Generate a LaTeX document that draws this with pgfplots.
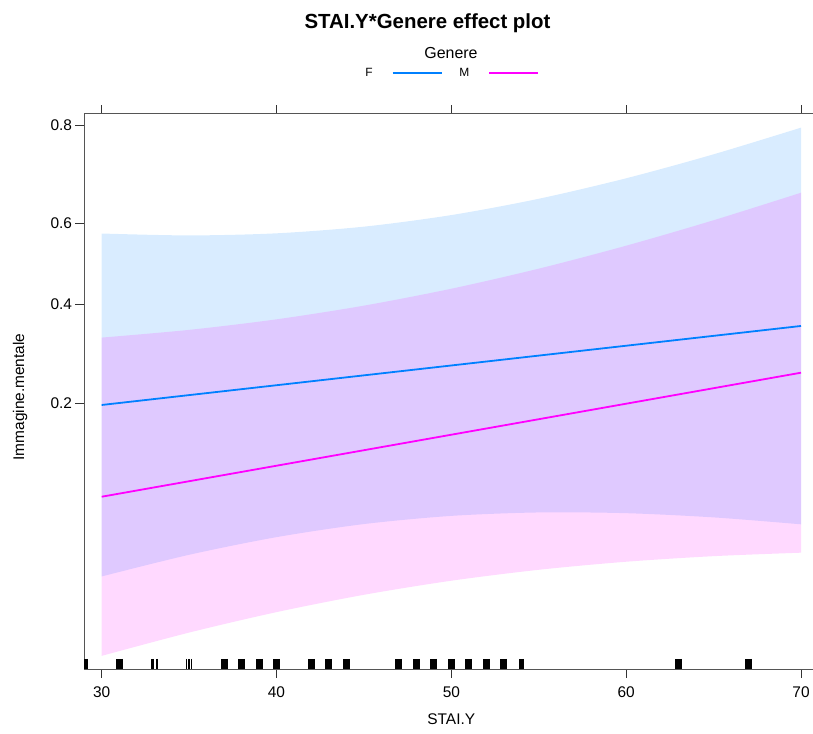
\documentclass[border=0pt]{standalone}
\usepackage{fontspec}
\setmainfont{Liberation Sans}
\usepackage{pgfplots}
\pgfplotsset{compat=1.18}
\usepgfplotslibrary{fillbetween}
\definecolor{Fcol}{HTML}{0080FF}
\definecolor{Mcol}{HTML}{FF00FF}
\definecolor{axgray}{HTML}{555555}
\begin{document}
\begin{tikzpicture}
\begin{axis}[name=ax,
  scale only axis, width=734.5bp, height=555bp,
  xmin=28.99, xmax=71, ymin=-4.039, ymax=1.496,
  axis line style={draw=axgray, line width=1bp},
  tick style={draw=black!80, line width=0.8bp},
  tick align=outside, major tick length=8.5bp,
  xtick={30,40,50,60,70}, xtick pos=both, xticklabel pos=lower,
  ytick={-1.386294,-0.405465,0.405465,1.386294},
  yticklabels={0.2,0.4,0.6,0.8}, ytick pos=left,
  /pgf/number format/assume math mode=true,
  ticklabel style={font=\fontsize{15.5}{18}\selectfont},
  xticklabel style={yshift=-6bp},
  xlabel={STAI.Y}, ylabel={Immagine.mentale},
  every axis x label/.style={at={(axis description cs:0.5,-0.09)}, anchor=center, font=\fontsize{15.5}{18}\selectfont},
  every axis y label/.style={at={(axis description cs:-0.087,0.49)}, rotate=90, anchor=center, font=\fontsize{15.5}{18}\selectfont},
  clip marker paths=true,
  legend columns=2,
  legend plot pos=right,
  legend image code/.code={\draw[#1] (0bp,0bp) -- (49bp,0bp);},
  legend style={draw=none, fill=none, at={(0.5,1)}, anchor=south, yshift=32bp,
    font=\fontsize{12}{14}\selectfont,
    /tikz/every even column/.append style={column sep=15bp},
    /tikz/every odd column/.append style={column sep=17bp}},
]
% F band
\addplot[name path=Fu, draw=none, smooth, forget plot] coordinates {
(30,0.304) (35,0.285) (40,0.306) (45,0.3725) (50,0.488) (55,0.6507) (60,0.855) (65,1.094) (70,1.360)};
\addplot[name path=Fl, draw=none, smooth, forget plot] coordinates {
(30,-3.116) (35,-2.900) (40,-2.724) (45,-2.5935) (50,-2.512) (55,-2.4777) (60,-2.485) (65,-2.527) (70,-2.596)};
\addplot[fill=Fcol, fill opacity=0.15, draw=none, forget plot] fill between[of=Fu and Fl];
% M band
\addplot[name path=Mu, draw=none, smooth, forget plot] coordinates {
(30,-0.734) (35,-0.6569) (40,-0.5517) (45,-0.4152) (50,-0.2465) (55,-0.0463) (60,0.1826) (65,0.4365) (70,0.711)};
\addplot[name path=Ml, draw=none, smooth, forget plot] coordinates {
(30,-3.908) (35,-3.6759) (40,-3.4719) (45,-3.299) (50,-3.1585) (55,-3.0495) (60,-2.9692) (65,-2.9137) (70,-2.879)};
\addplot[fill=Mcol, fill opacity=0.15, draw=none, forget plot] fill between[of=Mu and Ml];
% fitted lines
\addplot[Fcol, line width=1.8bp] coordinates {(30,-1.406) (70,-0.618)};
\addlegendentry{F}
\addplot[Mcol, line width=1.8bp] coordinates {(30,-2.321) (70,-1.084)};
\addlegendentry{M}
% rug
\addplot[only marks, mark=|, mark size=5bp, mark options={black, line width=7bp}, forget plot] coordinates {
(29,-3.989) (31,-3.989) (37,-3.989) (38,-3.989) (39,-3.989) (40,-3.989) (42,-3.989) (43,-3.989) (44,-3.989)
(47,-3.989) (48,-3.989) (49,-3.989) (50,-3.989) (51,-3.989) (52,-3.989) (53,-3.989) (63,-3.989) (67,-3.989)};
\addplot[only marks, mark=|, mark size=5bp, mark options={black, line width=5bp}, forget plot] coordinates {(54,-3.989)};
\addplot[only marks, mark=|, mark size=5bp, mark options={black, line width=3bp}, forget plot] coordinates {(32.93,-3.989)};
\addplot[only marks, mark=|, mark size=5bp, mark options={black, line width=2bp}, forget plot] coordinates {(33.15,-3.989)};
\addplot[only marks, mark=|, mark size=5bp, mark options={black, line width=1.3bp}, forget plot] coordinates {(34.86,-3.989) (34.99,-3.989) (35.12,-3.989)};
\end{axis}
\node[font=\fontsize{20.5}{24}\selectfont\bfseries] at ([xshift=343.5bp, yshift=91bp]ax.north west) {STAI.Y*Genere effect plot};
\node[font=\fontsize{16}{18}\selectfont] at ([xshift=367bp, yshift=61bp]ax.north west) {Genere};
\pgfresetboundingbox
\path[use as bounding box] ([xshift=-84bp, yshift=-65bp]ax.south west) rectangle ([xshift=729bp, yshift=114bp]ax.north west);
\end{tikzpicture}
\end{document}
